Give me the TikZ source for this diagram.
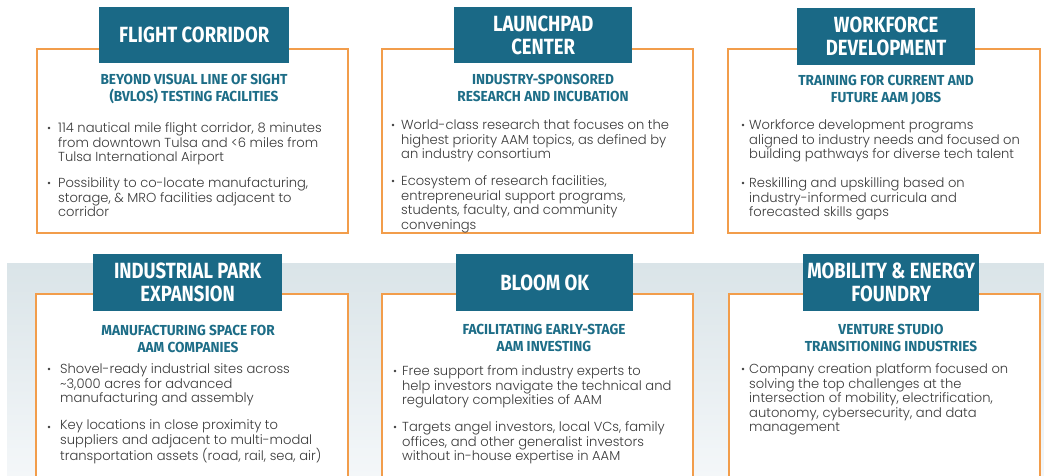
\documentclass[tikz,border=0pt]{standalone}
\usepackage{fontspec}
\setmainfont{Poppins}[UprightFont=* Light]
\newfontfamily\ttlfont[FakeStretch=0.84]{Fira Sans}
\newfontfamily\subfont[FakeStretch=0.94]{Fira Sans}
\definecolor{tealbox}{HTML}{1A6986}
\definecolor{tealtxt}{HTML}{1D6D87}
\definecolor{obord}{HTML}{F29D4B}
\definecolor{bodytxt}{HTML}{3A3A3A}
\definecolor{bandtop}{HTML}{DAE4E8}
\definecolor{bandbot}{HTML}{F4F7F9}
\tikzset{
  obox/.style={draw=obord, line width=1.8pt, fill=white, anchor=north west, inner sep=0pt},
  titlebox/.style={fill=tealbox, text=white, anchor=north west, inner sep=0pt, align=center,
    font=\ttlfont\bfseries\fontsize{22}{23}\selectfont},
  subttl/.style={text=tealtxt, align=center, inner sep=0pt,
    font=\subfont\bfseries\fontsize{14.5}{17}\selectfont},
  body/.style={text=bodytxt, align=left, inner sep=0pt, anchor=base west,
    font=\fontsize{13.1}{14.5}\selectfont},
  dot/.style={circle, fill=bodytxt, inner sep=0pt, minimum size=2.6pt}
}
\begin{document}
\begin{tikzpicture}[x=1pt,y=-1pt]
\useasboundingbox (0,0) rectangle (1044,476);
\fill[white] (0,0) rectangle (1044,476);
\shade[top color=bandtop, bottom color=bandbot] (7,263) rectangle (1044,476);

% ---------- Panel 1 ----------
\node[obox, minimum width=311pt, minimum height=184pt] (p1) at (36,48) {};
\node[titlebox, minimum width=190pt, minimum height=56pt] (t1) at (99,7) {FLIGHT CORRIDOR};
\node[subttl] (s1) at (194,89.5) {BEYOND VISUAL LINE OF SIGHT\\(BVLOS) TESTING FACILITIES};
\node[dot] (d11) at (49,128) {};
\node[body] (b11) at (58,161.7) {114 nautical mile flight corridor, 8 minutes\\from downtown Tulsa and <6 miles from\\Tulsa International Airport};
\node[dot] (d12) at (49,183) {};
\node[body] (b12) at (58,216.7) {Possibility to co-locate manufacturing,\\storage, \& MRO facilities adjacent to\\corridor};

% ---------- Panel 2 ----------
\node[obox, minimum width=311pt, minimum height=184pt] (p2) at (381,48) {};
\node[titlebox, minimum width=178pt, minimum height=56pt] (t2) at (454,7) {LAUNCHPAD\\CENTER};
\node[subttl] (s2) at (543,87.5) {INDUSTRY-SPONSORED\\RESEARCH AND INCUBATION};
\node[dot] (d21) at (393,125) {};
\node[body] (b21) at (401,158.7) {World-class research that focuses on the\\highest priority AAM topics, as defined by\\an industry consortium};
\node[dot] (d22) at (393,181) {};
\node[body] (b22) at (401,229.2) {Ecosystem of research facilities,\\entrepreneurial support programs,\\students, faculty, and community\\convenings};

% ---------- Panel 3 ----------
\node[obox, minimum width=312pt, minimum height=184pt] (p3) at (727,48) {};
\node[titlebox, minimum width=178pt, minimum height=57pt] (t3) at (797,8) {WORKFORCE\\DEVELOPMENT};
\node[subttl] (s3) at (886,90) {TRAINING FOR CURRENT AND\\FUTURE AAM JOBS};
\node[dot] (d31) at (743,125) {};
\node[body] (b31) at (749,158.7) {Workforce development programs\\aligned to industry needs and focused on\\building pathways for diverse tech talent};
\node[dot] (d32) at (743,183) {};
\node[body] (b32) at (749,216.7) {Reskilling and upskilling based on\\industry-informed curricula and\\forecasted skills gaps};

% ---------- Panel 4 ----------
\node[obox, minimum width=312pt, minimum height=186pt] (p4) at (35,293) {};
\node[titlebox, minimum width=189pt, minimum height=57pt] (t4) at (93,254) {INDUSTRIAL PARK\\EXPANSION};
\node[subttl] (s4) at (188,339) {MANUFACTURING SPACE FOR\\AAM COMPANIES};
\node[dot] (d41) at (49,369) {};
\node[body] (b41) at (60,402.7) {Shovel-ready industrial sites across\\\textasciitilde 3,000 acres for advanced\\manufacturing and assembly};
\node[dot] (d42) at (49,427) {};
\node[body] (b42) at (60,460.7) {Key locations in close proximity to\\suppliers and adjacent to multi-modal\\transportation assets (road, rail, sea, air)};

% ---------- Panel 5 ----------
\node[obox, minimum width=311pt, minimum height=186pt] (p5) at (381,293) {};
\node[titlebox, minimum width=177pt, minimum height=57pt] (t5) at (456,254) {BLOOM OK};
\node[subttl] (s5) at (544,337.5) {FACILITATING EARLY-STAGE\\AAM INVESTING};
\node[dot] (d51) at (395,371) {};
\node[body] (b51) at (402,404.7) {Free support from industry experts to\\help investors navigate the technical and\\regulatory complexities of AAM};
\node[dot] (d52) at (395,427) {};
\node[body] (b52) at (402,460.7) {Targets angel investors, local VCs, family\\offices, and other generalist investors\\without in-house expertise in AAM};

% ---------- Panel 6 ----------
\node[obox, minimum width=311pt, minimum height=186pt] (p6) at (728,293) {};
\node[titlebox, minimum width=176pt, minimum height=57pt] (t6) at (803,254) {MOBILITY \& ENERGY\\FOUNDRY};
\node[subttl] (s6) at (891,337.5) {VENTURE STUDIO\\TRANSITIONING INDUSTRIES};
\node[dot] (d61) at (743,369) {};
\node[body] (b61) at (749,431.7) {Company creation platform focused on\\solving the top challenges at the\\intersection of mobility, electrification,\\autonomy, cybersecurity, and data\\management};
\end{tikzpicture}
\end{document}
